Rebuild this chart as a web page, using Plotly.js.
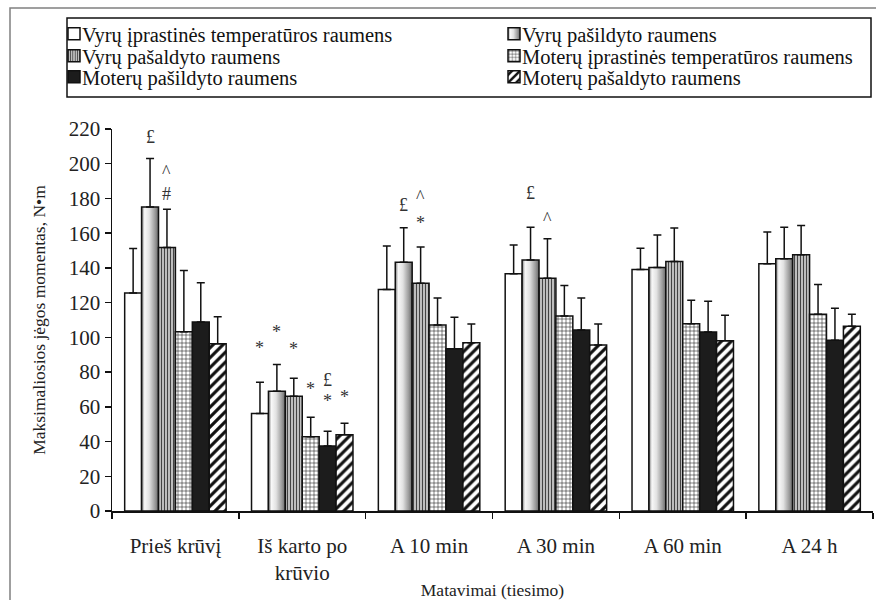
<!DOCTYPE html>
<html><head><meta charset="utf-8">
<script src="https://cdn.plot.ly/plotly-3.0.1.min.js"></script>
<style>html,body{margin:0;padding:0;background:#fff}</style>
</head><body><div id="chart" style="width:876px;height:600px"></div>
<script>
const categories = ['Prieš krūvį', 'Iš karto po<br>krūvio', 'A 10 min', 'A 30 min', 'A 60 min', 'A 24 h'];
const seriesNames = ['Vyrų įprastinės temperatūros raumens', 'Vyrų pašildyto raumens', 'Vyrų pašaldyto raumens',
  'Moterų įprastinės temperatūros raumens', 'Moterų pašildyto raumens', 'Moterų pašaldyto raumens'];
const vyruIprastines = [125.6, 56.1, 127.6, 136.6, 139.1, 142.4];
const vyruIprastinesSD = [25.6, 18.1, 25.0, 16.6, 12.2, 18.3];
const vyruPasildyto = [175.1, 69.0, 143.2, 144.5, 140.3, 145.3];
const vyruPasildytoSD = [27.9, 15.4, 20.0, 18.9, 18.7, 18.1];
const vyruPasaldyto = [151.8, 66.1, 131.2, 134.1, 143.7, 147.6];
const vyruPasaldytoSD = [22.0, 10.4, 20.8, 22.7, 19.3, 16.8];
const moteruIprastines = [103.3, 42.8, 107.1, 112.3, 107.9, 113.3];
const moteruIprastinesSD = [35.2, 11.2, 15.6, 17.6, 13.5, 17.1];
const moteruPasildyto = [108.9, 37.5, 93.4, 104.2, 103.1, 98.3];
const moteruPasildytoSD = [22.5, 8.5, 18.2, 18.5, 17.7, 18.5];
const moteruPasaldyto = [96.3, 43.9, 96.9, 95.6, 98.1, 106.4];
const moteruPasaldytoSD = [15.5, 6.6, 10.8, 12.1, 14.6, 6.9];
const yTickVals = [0, 20, 40, 60, 80, 100, 120, 140, 160, 180, 200, 220];

// significance markers: category index, series index, label, y value
const sigCat =    [0, 0, 0, 1, 1, 1, 1, 1, 1, 1, 2, 2, 2, 3, 3];
const sigSeries = [1, 2, 2, 0, 1, 2, 3, 4, 4, 5, 1, 2, 2, 1, 2];
const sigLabel =  ['£', '^', '#', '*', '*', '*', '*', '£', '*', '*', '£', '^', '*', '£', '^'];
const sigY =      [215.6, 195.5, 182.6, 94, 103, 93.1, 70.1, 75.5, 63.6, 65.9, 176.3, 180.7, 165.7, 183.4, 168];

const values = [vyruIprastines, vyruPasildyto, vyruPasaldyto, moteruIprastines, moteruPasildyto, moteruPasaldyto];
const sds = [vyruIprastinesSD, vyruPasildytoSD, vyruPasaldytoSD, moteruIprastinesSD, moteruPasildytoSD, moteruPasaldytoSD];

const FONT = '"Liberation Serif", "Times New Roman", serif';
const fills = [
  {color: '#ffffff'},
  {color: '#cccccc'},
  {color: '#ffffff', pattern: {shape: '|', fgcolor: '#444444', bgcolor: '#d8d8d8', size: 3, solidity: 0.45}},
  {color: '#ffffff', pattern: {shape: '+', fgcolor: '#111111', bgcolor: '#ffffff', size: 4, solidity: 0.25}},
  {color: '#1c1c1c'},
  {color: '#ffffff', pattern: {shape: '/', fgcolor: '#111111', bgcolor: '#ffffff', size: 7, solidity: 0.45}}
];

const legendIds = ['legend', 'legend2', 'legend3', 'legend4', 'legend5', 'legend6'];

const traces = values.map((v, i) => ({
  type: 'bar',
  name: seriesNames[i],
  x: categories,
  y: v,
  legend: legendIds[i],
  marker: Object.assign({line: {color: '#111111', width: 1.5}}, fills[i]),
  error_y: {type: 'data', symmetric: false, array: sds[i], arrayminus: v.map(() => 0),
            color: '#111111', thickness: 1.5, width: 4},
  hoverinfo: 'skip'
}));

const L = 112, R = 3, T = 129, B = 89, W = 876, H = 600;
const pw = W - L - R, ph = H - T - B;
const px2x = p => (p - L) / pw;
const px2y = p => (H - B - p) / ph;
const catW = pw / categories.length;
const barW = catW * 0.8 / 6;

const annotations = sigLabel.map((t, k) => ({
  x: categories[sigCat[k]], y: sigY[k], xref: 'x', yref: 'y',
  text: t, showarrow: false, xshift: (sigSeries[k] - 2.5) * barW,
  font: {family: FONT, size: 18, color: '#333333'}
}));

const legendColX = [42, 482];
const legendRowY = [34, 56, 77];

const layout = {
  width: W, height: H,
  margin: {l: L, r: R, t: T, b: B},
  paper_bgcolor: '#ffffff', plot_bgcolor: '#ffffff',
  font: {family: FONT, size: 17, color: '#222222'},
  barmode: 'group', bargap: 0.2, bargroupgap: 0,
  showlegend: true,
  xaxis: {type: 'category', showline: true, linecolor: '#111', linewidth: 1.5, ticks: 'outside',
          tickson: 'boundaries', ticklen: 6, tickcolor: '#111', tickwidth: 1.5, showgrid: false, zeroline: false,
          ticklabelstandoff: 15,
          tickfont: {family: FONT, size: 21, color: '#222'},
          title: {text: 'Matavimai (tiesimo)', font: {family: FONT, size: 17.5, color: '#222'}, standoff: 3}},
  yaxis: {range: [0, 220], tickvals: yTickVals, showline: true, linecolor: '#111', linewidth: 1.5, ticks: 'outside',
          ticklen: 6, tickcolor: '#111', tickwidth: 1.5, showgrid: false, zeroline: false,
          tickfont: {family: FONT, size: 21, color: '#222'},
          title: {text: 'Maksimaliosios jėgos momentas, N•m', font: {family: FONT, size: 17.5, color: '#222'}, standoff: 18}},
  annotations: annotations,
  shapes: [
    {type: 'rect', xref: 'paper', yref: 'paper', x0: px2x(10), x1: px2x(900), y0: px2y(640), y1: px2y(8),
     line: {color: '#808080', width: 1.5}, fillcolor: 'rgba(0,0,0,0)', layer: 'below'},
    {type: 'rect', xref: 'paper', yref: 'paper', x0: px2x(67), x1: px2x(871), y0: px2y(97), y1: px2y(18),
     line: {color: '#111111', width: 1.5}, fillcolor: 'rgba(0,0,0,0)', layer: 'below'}
  ]
};
legendIds.forEach((id, i) => {
  layout[id] = {x: px2x(legendColX[i % 2]), y: px2y(legendRowY[Math.floor(i / 2)]), xanchor: 'left', yanchor: 'middle',
    orientation: 'v', bgcolor: 'rgba(0,0,0,0)', borderwidth: 0,
    font: {family: FONT, size: 20.5, color: '#111'}};
});

Plotly.newPlot('chart', traces, layout, {staticPlot: true}).then(gd => {
  const svg = gd.querySelector('.main-svg');
  const defs = svg.querySelector('defs');
  const ns = 'http://www.w3.org/2000/svg';
  const lg = document.createElementNS(ns, 'linearGradient');
  lg.setAttribute('id', 'barGradWarm');
  lg.setAttribute('x1', '0'); lg.setAttribute('x2', '1'); lg.setAttribute('y1', '0'); lg.setAttribute('y2', '0');
  [['0', '#7a7a7a'], ['0.18', '#f8f8f8'], ['0.45', '#e2e2e2'], ['0.8', '#9a9a9a'], ['1', '#666666']].forEach(([o, c]) => {
    const s = document.createElementNS(ns, 'stop');
    s.setAttribute('offset', o); s.setAttribute('stop-color', c);
    lg.appendChild(s);
  });
  defs.appendChild(lg);
  const barTraces = gd.querySelectorAll('.barlayer .trace');
  if (barTraces[1]) barTraces[1].querySelectorAll('.point path').forEach(p => { p.style.fill = 'url(#barGradWarm)'; });
  gd.querySelectorAll('g.traces').forEach(t => {
    const pts = t.querySelector('.legendpoints');
    if (pts) pts.setAttribute('transform', 'translate(12,0)');
    if (t.textContent.trim() === seriesNames[1]) {
      t.querySelectorAll('.legendpoints path').forEach(p => { p.style.fill = 'url(#barGradWarm)'; });
    }
  });
});
</script></body></html>
